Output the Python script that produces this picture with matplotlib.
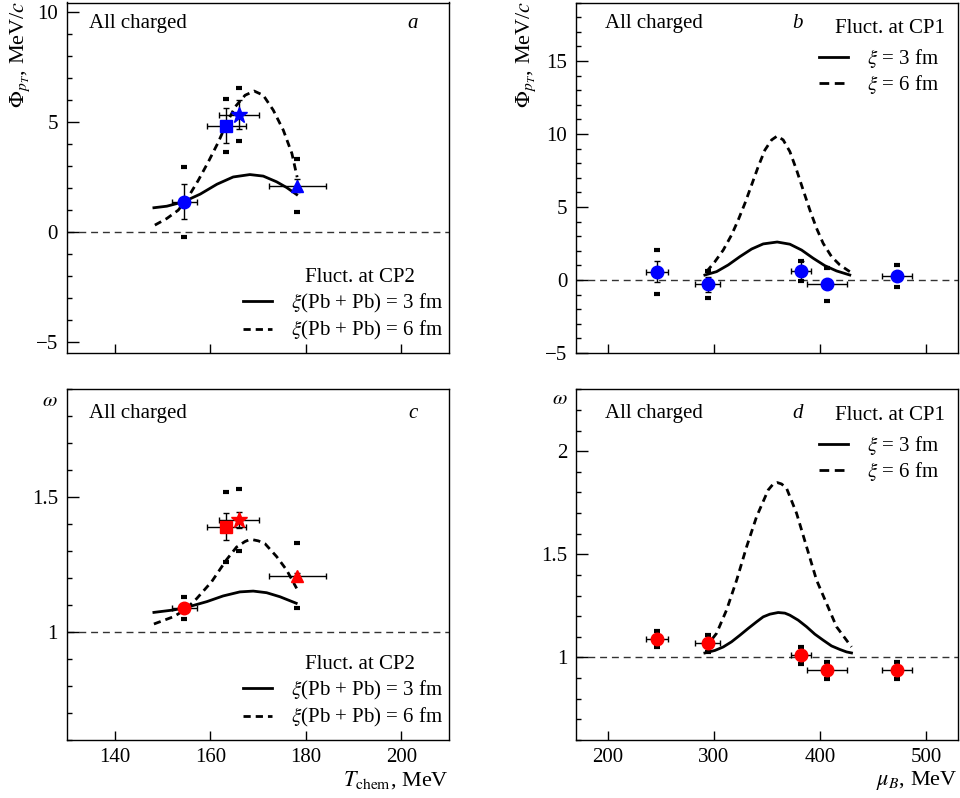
import numpy as np
import matplotlib
matplotlib.use("Agg")
import matplotlib.pyplot as plt
from matplotlib.ticker import MultipleLocator, FuncFormatter
from matplotlib.lines import Line2D

# --- data points ---
T_chem = [154.6, 163.4, 166.1, 178.2]
T_chem_err = [2.7, 4.0, 4.2, 6.0]
T_markers = ["o", "s", "*", "^"]
T_msizes = [9, 9, 12, 9]

phi_T = [1.38, 4.85, 5.35, 2.12]
phi_T_stat = [0.8, 0.8, 0.67, 0.3]
phi_T_sys = [1.6, 1.2, 1.2, 1.2]

omega_T = [1.089, 1.391, 1.415, 1.209]
omega_T_stat = [0.015, 0.05, 0.03, 0.01]
omega_T_sys = [0.04, 0.13, 0.115, 0.12]

mu_B = [246.4, 294.0, 381.7, 406.4, 472.4]
mu_B_err = [10, 11.5, 9.5, 19, 14]

phi_mu = [0.57, -0.3, 0.62, -0.3, 0.27]
phi_mu_stat = [0.73, 0.5, 0.65, 0.2, 0.3]
phi_mu_sys = [1.5, 0.9, 0.7, 1.15, 0.75]

omega_mu = [1.089, 1.068, 1.010, 0.938, 0.938]
omega_mu_stat = [0.02, 0.02, 0.02, 0.02, 0.02]
omega_mu_sys = [0.04, 0.04, 0.04, 0.04, 0.04]

# --- model curves, critical point CP2 (vs T_chem) ---
cp2_T_phi_3fm = [148.2, 150.9, 154.4, 157.9, 161.4, 164.8, 168.3, 171.1, 173.9, 176.0, 178.1]
cp2_phi_3fm = [1.11, 1.18, 1.38, 1.73, 2.18, 2.51, 2.62, 2.55, 2.29, 2.03, 1.71]

cp2_T_phi_6fm = [148.4, 150.9, 153.3, 155.4, 157.5, 159.6, 161.7, 163.4, 165.2, 167.3, 169.2,
                 171.1, 173.2, 175.3, 177.1, 178.2]
cp2_phi_6fm = [0.32, 0.62, 1.0, 1.6, 2.36, 3.2, 4.1, 4.94, 5.7, 6.23, 6.42,
               6.23, 5.55, 4.64, 3.58, 2.5]

cp2_T_omega_3fm = [148.2, 152.3, 154.7, 159.3, 162.7, 166.2, 169.0, 171.8, 174.6, 178.0]
cp2_omega_3fm = [1.073, 1.082, 1.090, 1.113, 1.134, 1.149, 1.152, 1.146, 1.131, 1.107]

cp2_T_omega_6fm = [148.2, 152.3, 154.7, 157.2, 160.3, 163.4, 165.5, 167.3, 168.0, 169.0, 170.1,
                   171.5, 173.9, 176.0, 178.1]
cp2_omega_6fm = [1.030, 1.057, 1.082, 1.125, 1.187, 1.268, 1.315, 1.336, 1.341, 1.342, 1.338,
                 1.327, 1.280, 1.230, 1.162]

# --- model curves, critical point CP1 (vs mu_B) ---
cp1_mu_phi_3fm = [291.5, 302.5, 313.5, 324.5, 335.5, 346.4, 359.6, 371.5, 382.5, 393.4, 404.4,
                  415.4, 427.9]
cp1_phi_3fm = [0.34, 0.57, 1.03, 1.6, 2.12, 2.47, 2.60, 2.45, 2.05, 1.49, 0.98, 0.62, 0.34]

cp1_mu_phi_6fm = [293.1, 300.9, 308.8, 316.6, 322.9, 329.2, 335.5, 341.7, 348.0, 354.3, 359.6,
                  365.2, 371.5, 377.8, 384.0, 390.3, 396.6, 402.8, 410.7, 418.5, 427.9]
cp1_phi_6fm = [0.57, 1.25, 2.05, 3.08, 4.11, 5.25, 6.51, 7.76, 8.9, 9.59, 9.86,
               9.59, 8.79, 7.53, 6.16, 4.79, 3.54, 2.51, 1.6, 1.03, 0.57]

cp1_mu_omega_3fm = [291.5, 300.9, 308.8, 316.6, 324.5, 332.3, 340.2, 346.4, 352.7, 360.5, 366.8,
                    371.5, 379.3, 387.2, 395.0, 402.8, 410.7, 418.5, 424.8, 429.5]
cp1_omega_3fm = [1.022, 1.034, 1.051, 1.076, 1.108, 1.141, 1.173, 1.197, 1.210, 1.218, 1.215,
                 1.205, 1.181, 1.149, 1.113, 1.084, 1.056, 1.039, 1.027, 1.022]

cp1_mu_omega_6fm = [291.5, 302.5, 311.9, 321.4, 330.8, 340.2, 351.1, 355.8, 359.6, 363.7, 368.4,
                    377.8, 387.2, 396.6, 406.0, 415.4, 429.5]
cp1_omega_6fm = [1.044, 1.117, 1.230, 1.375, 1.537, 1.683, 1.812, 1.841, 1.848, 1.841, 1.820,
                 1.699, 1.537, 1.375, 1.262, 1.149, 1.051]

W, H = 960, 798
FS = 15
DASH = (2.6, 1.8)


def axes_rect(left, right, top, bottom):
    return [left / W, (H - bottom) / H, (right - left) / W, (bottom - top) / H]


def style_axes(ax, xlim, ylim, xmajor, ymajor, yminor, show_x=True):
    ax.set_xlim(*xlim)
    ax.set_ylim(*ylim)
    ax.xaxis.set_major_locator(MultipleLocator(xmajor))
    ax.yaxis.set_major_locator(MultipleLocator(ymajor))
    ax.yaxis.set_minor_locator(MultipleLocator(yminor))
    ax.tick_params(axis="y", which="major", direction="in", length=8.6, width=1, pad=6.5, labelsize=FS)
    ax.tick_params(axis="y", which="minor", direction="in", length=3.5, width=1)
    ax.tick_params(axis="x", which="major", direction="in", length=6.5, width=1, pad=6, labelsize=FS,
                   labelbottom=show_x)
    for s in ax.spines.values():
        s.set_linewidth(1)


def plot_points(ax, x, xerr, y, yerr, ysys, markers, sizes, color):
    for i in range(len(x)):
        ax.errorbar(x[i], y[i], xerr=xerr[i], yerr=yerr[i], fmt="none", ecolor="k",
                    elinewidth=1, capsize=2.5, capthick=1, zorder=3)
        ax.plot([x[i], x[i]], [y[i] - ysys[i], y[i] + ysys[i]], ls="none", marker="_",
                ms=5, mew=3, color="k", zorder=3)
        ax.plot(x[i], y[i], marker=markers[i], ms=sizes[i], color=color, mec=color, ls="none", zorder=4)


def plot_curves(ax, x3, y3, x6, y6, ref):
    ax.axhline(ref, color="#333333", lw=1, dashes=(5, 3.5), zorder=1)
    ax.plot(x3, y3, color="k", lw=2, zorder=2, solid_joinstyle="round")
    ax.plot(x6, y6, color="k", lw=2, dashes=DASH, zorder=2)


def add_cp2_legend(ax):
    ax.text(0.767, 0.215, "Fluct. at CP2", transform=ax.transAxes, ha="center", va="center", fontsize=FS)
    handles = [Line2D([], [], color="k", lw=2), Line2D([], [], color="k", lw=2, dashes=DASH)]
    labels = [r"$\xi$(Pb + Pb) = 3 fm", r"$\xi$(Pb + Pb) = 6 fm"]
    ax.legend(handles, labels, loc="lower right", bbox_to_anchor=(0.985, 0.03), frameon=False,
              fontsize=FS, handlelength=1.4, handletextpad=0.9, labelspacing=0.2,
              borderpad=0, borderaxespad=0)


def add_cp1_legend(ax):
    ax.text(0.965, 0.926, "Fluct. at CP1", transform=ax.transAxes, ha="right", va="center", fontsize=FS)
    handles = [Line2D([], [], color="k", lw=2), Line2D([], [], color="k", lw=2, dashes=(3.5, 2))]
    labels = [r"$\xi$ = 3 fm", r"$\xi$ = 6 fm"]
    ax.legend(handles, labels, loc="upper right", bbox_to_anchor=(0.95, 0.872), frameon=False,
              fontsize=FS, handlelength=1.4, handletextpad=0.9, labelspacing=0.15,
              borderpad=0, borderaxespad=0)


def main():
    plt.rcParams.update({
        "font.family": "serif",
        "font.serif": ["Liberation Serif", "DejaVu Serif"],
        "mathtext.fontset": "stix",
        "axes.unicode_minus": True,
    })

    fig = plt.figure(figsize=(W / 100, H / 100), dpi=100)
    ax_a = fig.add_axes(axes_rect(67, 449, 2.5, 353))
    ax_b = fig.add_axes(axes_rect(576.3, 958.3, 2.5, 353))
    ax_c = fig.add_axes(axes_rect(67, 449, 389.3, 740))
    ax_d = fig.add_axes(axes_rect(576.3, 958.3, 389.3, 740))

    # a: Phi_pT vs T_chem
    plot_curves(ax_a, cp2_T_phi_3fm, cp2_phi_3fm, cp2_T_phi_6fm, cp2_phi_6fm, 0)
    plot_points(ax_a, T_chem, T_chem_err, phi_T, phi_T_stat, phi_T_sys, T_markers, T_msizes, "#0000ff")
    style_axes(ax_a, (130, 210), (-5.5, 10.45), 20, 5, 1, show_x=False)
    add_cp2_legend(ax_a)

    # b: Phi_pT vs mu_B
    plot_curves(ax_b, cp1_mu_phi_3fm, cp1_phi_3fm, cp1_mu_phi_6fm, cp1_phi_6fm, 0)
    plot_points(ax_b, mu_B, mu_B_err, phi_mu, phi_mu_stat, phi_mu_sys, ["o"] * 5, [9] * 5, "#0000ff")
    style_axes(ax_b, (170.5, 530), (-5, 19), 100, 5, 1, show_x=False)
    add_cp1_legend(ax_b)

    # c: omega vs T_chem
    plot_curves(ax_c, cp2_T_omega_3fm, cp2_omega_3fm, cp2_T_omega_6fm, cp2_omega_6fm, 1)
    plot_points(ax_c, T_chem, T_chem_err, omega_T, omega_T_stat, omega_T_sys, T_markers, T_msizes, "#ff0000")
    style_axes(ax_c, (130, 210), (0.6, 1.9), 20, 0.5, 0.1)
    ax_c.yaxis.set_major_formatter(FuncFormatter(lambda v, p: f"{v:g}"))
    add_cp2_legend(ax_c)

    # d: omega vs mu_B
    plot_curves(ax_d, cp1_mu_omega_3fm, cp1_omega_3fm, cp1_mu_omega_6fm, cp1_omega_6fm, 1)
    plot_points(ax_d, mu_B, mu_B_err, omega_mu, omega_mu_stat, omega_mu_sys, ["o"] * 5, [9] * 5, "#ff0000")
    style_axes(ax_d, (170.5, 530), (0.6, 2.3), 100, 0.5, 0.1)
    ax_d.yaxis.set_major_formatter(FuncFormatter(lambda v, p: f"{v:g}"))
    add_cp1_legend(ax_d)

    for ax, letter, lx in [(ax_a, "a", 0.906), (ax_b, "b", 0.58), (ax_c, "c", 0.906), (ax_d, "d", 0.58)]:
        ytxt = 0.94 if ax in (ax_a, ax_b) else 0.93
        left = 0.058 if ax in (ax_a, ax_c) else 0.075
        ax.text(left, ytxt, "All charged", transform=ax.transAxes, ha="left", va="center", fontsize=FS)
        ax.text(lx, ytxt, letter, transform=ax.transAxes, ha="center", va="center", fontsize=FS,
                style="italic")

    # axis titles
    fig.text(20 / W, 1 - 1 / H, r"$\Phi_{p_T}$, MeV/$c$", rotation=90, ha="center", va="top", fontsize=16)
    fig.text(526 / W, 1 - 1 / H, r"$\Phi_{p_T}$, MeV/$c$", rotation=90, ha="center", va="top", fontsize=16)
    fig.text(50 / W, 1 - 401 / H, r"$\omega$", ha="center", va="center", fontsize=FS)
    fig.text(560 / W, 1 - 400 / H, r"$\omega$", ha="center", va="center", fontsize=FS)
    fig.text(449 / W, 1 - 780 / H, r"$T_{\rm chem}$, MeV", ha="right", va="center", fontsize=16)
    fig.text(958 / W, 1 - 780 / H, r"$\mu_B$, MeV", ha="right", va="center", fontsize=16)

    fig.savefig("out.png", dpi=100)


if __name__ == "__main__":
    main()
